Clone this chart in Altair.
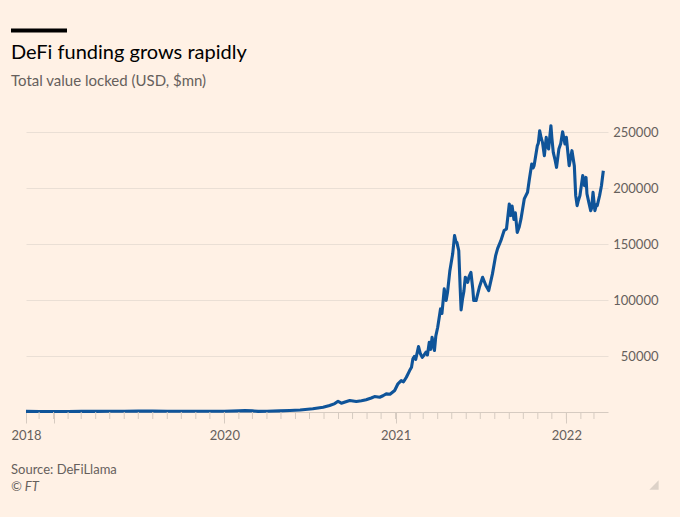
import altair as alt
import pandas as pd

# ---- data ----
dates = [
    "2018-11-03", "2018-12-01", "2019-01-01", "2019-02-01", "2019-03-01", "2019-04-01",
    "2019-05-01", "2019-06-01", "2019-07-01", "2019-08-01", "2019-09-01", "2019-10-01",
    "2019-11-01", "2019-12-01", "2020-01-01", "2020-02-01", "2020-02-14", "2020-03-01",
    "2020-03-13", "2020-04-01", "2020-04-28", "2020-05-20", "2020-06-11", "2020-07-08",
    "2020-07-30", "2020-08-13", "2020-08-24", "2020-08-31", "2020-09-07", "2020-09-15",
    "2020-09-25", "2020-10-09", "2020-10-20", "2020-10-30", "2020-11-10", "2020-11-17",
    "2020-11-28", "2020-12-05", "2020-12-12", "2020-12-20", "2020-12-30", "2021-01-06",
    "2021-01-13", "2021-01-18", "2021-01-24", "2021-01-31", "2021-02-04", "2021-02-07",
    "2021-02-10", "2021-02-13", "2021-02-19", "2021-02-23", "2021-02-27", "2021-03-03",
    "2021-03-07", "2021-03-10", "2021-03-14", "2021-03-17", "2021-03-20", "2021-03-25",
    "2021-03-28", "2021-04-01", "2021-04-07", "2021-04-10", "2021-04-12", "2021-04-15",
    "2021-04-19", "2021-04-22", "2021-04-27", "2021-05-03", "2021-05-07", "2021-05-10",
    "2021-05-12", "2021-05-16", "2021-05-19", "2021-05-21", "2021-05-24", "2021-05-27",
    "2021-05-30", "2021-06-04", "2021-06-07", "2021-06-11", "2021-06-15", "2021-06-17",
    "2021-06-22", "2021-06-29", "2021-07-06", "2021-07-13", "2021-07-19", "2021-07-27",
    "2021-08-03", "2021-08-07", "2021-08-14", "2021-08-21", "2021-08-26", "2021-09-01",
    "2021-09-04", "2021-09-07", "2021-09-11", "2021-09-14", "2021-09-18", "2021-09-22",
    "2021-09-26", "2021-10-03", "2021-10-10", "2021-10-14", "2021-10-19", "2021-10-22",
    "2021-10-24", "2021-10-31", "2021-11-02", "2021-11-05", "2021-11-08", "2021-11-11",
    "2021-11-15", "2021-11-19", "2021-11-21", "2021-11-24", "2021-11-29", "2021-12-01",
    "2021-12-04", "2021-12-08", "2021-12-11", "2021-12-16", "2021-12-20", "2021-12-24",
    "2021-12-29", "2022-01-01", "2022-01-07", "2022-01-13", "2022-01-18", "2022-01-21",
    "2022-01-24", "2022-01-26", "2022-01-30", "2022-02-05", "2022-02-09", "2022-02-12",
    "2022-02-14", "2022-02-18", "2022-02-22", "2022-02-24", "2022-02-27", "2022-03-03",
    "2022-03-06", "2022-03-08", "2022-03-13", "2022-03-17", "2022-03-21",
]
tvl = [
    600, 400, 450, 500, 550, 600,
    650, 700, 800, 750, 700, 650,
    700, 650, 700, 1000, 1200, 1000,
    550, 650, 1000, 1300, 1800, 2900,
    4300, 5800, 7500, 9600, 7900, 9000,
    10300, 9400, 10000, 10900, 12500, 13800,
    13200, 14500, 16200, 15800, 19200, 25200,
    28100, 27000, 31100, 37000, 40000, 47500,
    49600, 47000, 58500, 52000, 48900, 51000,
    53400, 51000, 62300, 56000, 66800, 54900,
    68000, 75700, 92100, 88000, 96600, 110000,
    99600, 107000, 126300, 141300, 157600, 152000,
    151600, 144200, 111400, 91200, 101000, 108000,
    120400, 115900, 121000, 124800, 110000, 99600,
    99600, 111400, 120400, 113000, 108500, 123400,
    140000, 146000, 153100, 162100, 163600, 185900,
    175500, 184000, 172000, 178000, 160500, 165000,
    172500, 190400, 196300, 208200, 221600, 218000,
    220100, 238000, 240000, 251300, 245000, 240900,
    229000, 245400, 238000, 235000, 255800, 245000,
    232000, 225000, 218600, 235000, 240000, 250400,
    239500, 245400, 220100, 233500, 220100, 193300,
    184400, 188000, 193300, 211200, 202200, 209600,
    195000, 187300, 179900, 182000, 196300, 179900,
    185000, 184400, 193300, 202200, 215600,
]

y_ticks = [50000, 100000, 150000, 200000, 250000]
major_ticks = ["2018-11-03", "2019-01-01", "2020-01-01", "2021-01-01", "2022-01-01"]
minor_ticks = [d.strftime("%Y-%m-%d") for d in pd.date_range("2018-12-01", "2022-03-01", freq="MS")]

TITLE = "DeFi funding grows rapidly"
SUBTITLE = "Total value locked (USD, $mn)"
SOURCE = "Source: DeFiLlama"
CREDIT = "© FT"

df = pd.DataFrame({"date": dates, "tvl": tvl})
ticks_df = pd.DataFrame({"m": minor_ticks})

W, H = 582, 291
BG = "#fff1e5"
GRID = "#eadfd5"
AXIS = "#d6cbc1"
LABEL = "#66605c"
FONT = "Lato"


def dt(s):
    y, m, d = (int(p) for p in s.split("-"))
    return alt.DateTime(year=y, month=m, date=d, utc=True)


x_scale = alt.Scale(domain=[dt("2018-11-03"), dt("2022-03-31")], type="utc")

line = alt.Chart(df).mark_line(color="#0f5499", strokeWidth=3.1, strokeJoin="round").encode(
    x=alt.X(
        "date:T",
        scale=x_scale,
        axis=alt.Axis(
            values=[dt(v) for v in major_ticks],
            labelExpr="utcyear(datum.value) == 2019 ? '' : utcFormat(datum.value, '%Y')",
            grid=False,
            tickSize=11,
            tickColor=AXIS,
            domainColor=AXIS,
            labelPadding=6,
            labelFontSize=13,
            labelFont=FONT,
            labelColor=LABEL,
            labelAlign="center",
            labelBaseline="top",
            labelOverlap=False,
            title=None,
        ),
    ),
    y=alt.Y(
        "tvl:Q",
        scale=alt.Scale(domain=[0, 260000], nice=False),
        axis=alt.Axis(
            orient="right",
            values=y_ticks,
            grid=True,
            gridColor=GRID,
            ticks=False,
            domain=False,
            labelAlign="right",
            labelBaseline="middle",
            labelPadding=50,
            labelFontSize=13,
            labelFont=FONT,
            labelColor=LABEL,
            format="d",
            title=None,
        ),
    ),
)

minor = alt.Chart(ticks_df).mark_rule(color=AXIS, strokeWidth=1).encode(
    x=alt.X("m:T", scale=x_scale),
    y=alt.value(H),
    y2=alt.value(H + 7),
)


def text(s, x, y, size, color, style="normal", weight="normal"):
    return alt.Chart(pd.DataFrame({"t": [s]})).mark_text(
        align="left", baseline="alphabetic", font=FONT, fontSize=size, color=color,
        fontStyle=style, fontWeight=weight,
    ).encode(x=alt.value(x), y=alt.value(y), text="t:N")


bar = alt.Chart(pd.DataFrame({"t": [0]})).mark_rule(color="#000000", strokeWidth=4).encode(
    x=alt.value(-15), x2=alt.value(41), y=alt.value(-90.5)
)

corner = alt.Chart(pd.DataFrame({"t": [0]})).mark_point(
    shape="M 1 -1 L 1 1 L -1 1 Z", filled=True, size=86, color="#ddd2c8", opacity=1
).encode(x=alt.value(628), y=alt.value(364))

chart = alt.layer(
    line,
    minor,
    bar,
    text(TITLE, -15, -62, 20, "#000000"),
    text(SUBTITLE, -15, -35, 15, LABEL),
    text(SOURCE, -15, 353, 13, LABEL),
    text(CREDIT, -15, 370, 13, LABEL, style="italic"),
    corner,
).properties(
    width=W,
    height=H,
    background=BG,
    padding={"left": 26, "top": 121, "right": 72, "bottom": 105},
    autosize=alt.AutoSizeParams(type="none"),
).configure_view(strokeWidth=0)

chart.save("out.html", embed_options={"renderer": "svg", "actions": False})
